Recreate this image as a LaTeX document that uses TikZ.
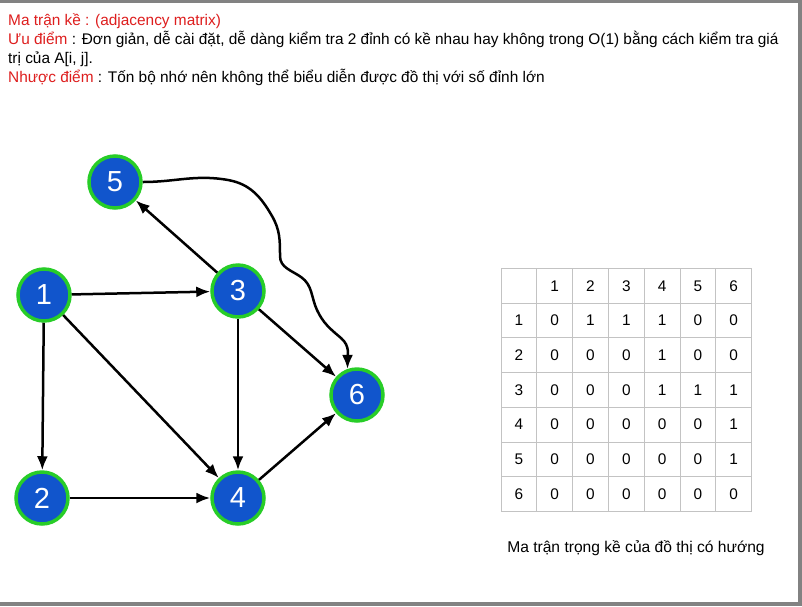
\documentclass[tikz,border=0pt]{standalone}
\usepackage{fontspec}
\setmainfont{Liberation Sans}
\usetikzlibrary{arrows.meta,positioning}

\definecolor{nodeblue}{RGB}{17,85,204}
\definecolor{nodegreen}{RGB}{40,205,40}
\definecolor{hdrred}{RGB}{222,30,30}
\definecolor{gridgray}{RGB}{195,195,195}
\definecolor{framegray}{RGB}{130,130,130}

\begin{document}
\begin{tikzpicture}[x=1pt, y=-1pt,
    vertex/.style={circle, draw=nodegreen, fill=nodeblue, line width=3.5pt,
      minimum size=52pt, inner sep=0pt, text=white, font=\fontsize{29}{29}\selectfont},
    edge/.style={->, line width=2.5pt},
    >={Latex[length=14pt,width=11pt]},
    hdr/.style={anchor=base west, inner sep=0pt, font=\fontsize{15.4}{19}\selectfont},
    cell/.style={inner sep=0pt, font=\fontsize{15.4}{15}\selectfont}]
    % frame of the slide
    \fill[framegray] (0,0) rectangle (802,606);
    \fill[white] (0,3) rectangle (798,602);
    \useasboundingbox (0,0) rectangle (802,606);

    % header text
    \node[hdr, text=hdrred] (title) at (8,25) {Ma trận kề : (adjacency matrix)};
    \node[hdr] (pros) at (8,44) {\textcolor{hdrred}{Ưu điểm} : Đơn giản, dễ cài đặt, dễ dàng kiểm tra 2 đỉnh có kề nhau hay không trong O(1) bằng cách kiểm tra giá};
    \node[hdr] (pros2) at (8,63) {trị của A[i, j].};
    \node[hdr] (cons) at (8,82) {\textcolor{hdrred}{Nhược điểm} : Tốn bộ nhớ nên không thể biểu diễn được đồ thị với số đỉnh lớn};

    % graph
    \node[vertex] (v5) at (115,182) {5};
    \node[vertex] (v1) at (44,295) {1};
    \node[vertex] (v3) at (238,291) {3};
    \node[vertex] (v6) at (357,395) {6};
    \node[vertex] (v2) at (42,498) {2};
    \node[vertex] (v4) at (238,498) {4};

    \draw[edge] (v1) -- (v3);
    \draw[edge] (v1) -- (v2);
    \draw[edge] (v1) -- (v4);
    \draw[edge] (v2) -- (v4);
    \draw[edge] (v3) -- (v4);
    \draw[edge] (v3) -- (v5);
    \draw[edge] (v3) -- (v6);
    \draw[edge] (v4) -- (v6);

    \coordinate (c1) at (228,180);
    \coordinate (c2) at (272,216);
    \coordinate (c3) at (280,256);
    \coordinate (c4) at (301,277);
    \coordinate (c5) at (317,310);
    \coordinate (c6) at (341,338);
    \draw[edge] (v5.east) to[out=0,in=170] (c1) to[out=-10,in=120] (c2)
      to[out=-60,in=90] (c3) to[out=-90,in=145] (c4)
      to[out=-35,in=115] (c5) to[out=-65,in=140] (c6)
      to[out=-40,in=90] (v6.110);

    % adjacency matrix
    \foreach \i in {0,...,7} {
      \draw[gridgray, line width=1pt] (501,268.5+34.7*\i) -- (751.6,268.5+34.7*\i);
      \draw[gridgray, line width=1pt] (501+35.8*\i,268.5) -- (501+35.8*\i,511.4);
    }
    \foreach \k in {1,...,6} {
      \node[cell] (col\k) at (501+35.8*\k+17.9,268.5+17.35) {\k};
      \node[cell] (row\k) at (501+17.9,268.5+34.7*\k+17.35) {\k};
    }
    \foreach \row [count=\r] in {{0,1,1,1,0,0},{0,0,0,1,0,0},{0,0,0,1,1,1},
                                 {0,0,0,0,0,1},{0,0,0,0,0,1},{0,0,0,0,0,0}} {
      \foreach \v [count=\c] in \row
        \node[cell] at (501+35.8*\c+17.9,268.5+34.7*\r+17.35) {\v};
    }
    \node[cell, font=\fontsize{15.6}{15}\selectfont] (caption) at (636,548)
      {Ma trận trọng kề của đồ thị có hướng};
\end{tikzpicture}
\end{document}
